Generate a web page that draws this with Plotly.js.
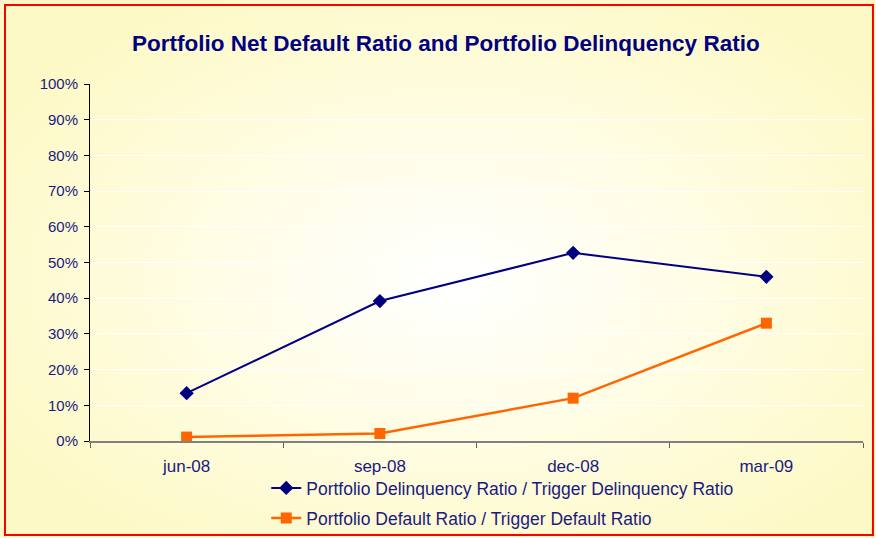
<!DOCTYPE html>
<html><head><meta charset="utf-8">
<script src="https://cdn.plot.ly/plotly-3.0.1.min.js"></script>
<style>
html,body{margin:0;padding:0;background:#fff;}
#wrap{position:relative;width:876px;height:538px;}
#chart{position:absolute;left:0;top:0;width:876px;height:538px;
 background:radial-gradient(ellipse 60% 60% at 52% 52%, #ffffff 0%, #fffde6 45%, #fdf9c6 100%);}
#frame{position:absolute;left:4px;top:4px;width:866px;height:528px;border:2px solid #ff0000;pointer-events:none;}
</style></head>
<body>
<div id="wrap"><div id="chart"></div><div id="frame"></div></div>
<script>
const categories = ["jun-08","sep-08","dec-08","mar-09"];
const delinquency = [0.134, 0.392, 0.527, 0.460];
const defaults = [0.011, 0.021, 0.120, 0.330];
const yTickVals = [0,0.1,0.2,0.3,0.4,0.5,0.6,0.7,0.8,0.9,1.0];
const yTickText = ["0%","10%","20%","30%","40%","50%","60%","70%","80%","90%","100%"];
const seriesNames = ["Portfolio Delinquency Ratio / Trigger Delinquency Ratio","Portfolio Default Ratio / Trigger Default Ratio"];

const fontFam = "Arial, 'Liberation Sans', sans-serif";
const txtCol = "#1a1a80";

const traces = [
 {x: categories, y: delinquency, name: seriesNames[0], type: "scatter", mode: "lines+markers",
  line: {color: "#000080", width: 2}, marker: {symbol: "diamond", size: 11, color: "#000080"}, legend: "legend"},
 {x: categories, y: defaults, name: seriesNames[1], type: "scatter", mode: "lines+markers",
  line: {color: "#ff6600", width: 2.5}, marker: {symbol: "square", size: 11, color: "#ff6600"}, legend: "legend2"}
];

const legendBase = {orientation: "v", bgcolor: "rgba(0,0,0,0)", font: {family: fontFam, size: 17.5, color: txtCol},
  xanchor: "left", yanchor: "middle", itemwidth: 30};

const layout = {
 width: 876, height: 538,
 paper_bgcolor: "rgba(0,0,0,0)", plot_bgcolor: "rgba(0,0,0,0)",
 margin: {l: 90, r: 13, t: 84, b: 97, autoexpand: false},
 title: {text: "<b>Portfolio Net Default Ratio and Portfolio Delinquency Ratio</b>", x: 0.509, xanchor: "center", y: 0.92, yanchor: "middle",
   font: {family: fontFam, size: 22.5, color: "#000080"}},
 xaxis: {type: "category", range: [-0.5, 3.5], showgrid: false, tickson: "boundaries", ticks: "outside", ticklen: 5,
   tickcolor: "#606060", showline: true, linecolor: "#808080", linewidth: 2, zeroline: false, ticklabelstandoff: 9,
   tickfont: {family: fontFam, size: 17, color: txtCol}, fixedrange: true, automargin: false},
 yaxis: {range: [0, 1.0], tickvals: yTickVals, ticktext: yTickText, ticks: "outside", ticklen: 5, tickcolor: "#000",
   showline: true, linecolor: "#000", linewidth: 1, showgrid: true, gridcolor: "#ffffff", gridwidth: 1, zeroline: false,
   ticklabelstandoff: 3,
   tickfont: {family: fontFam, size: 15, color: txtCol}, fixedrange: true, automargin: false},
 showlegend: true,
 legend: Object.assign({}, legendBase, {x: 0.228, y: -0.1317}),
 legend2: Object.assign({}, legendBase, {x: 0.228, y: -0.2157})
};

Plotly.newPlot("chart", traces, layout, {displayModeBar: false, staticPlot: true});
</script>
</body></html>
